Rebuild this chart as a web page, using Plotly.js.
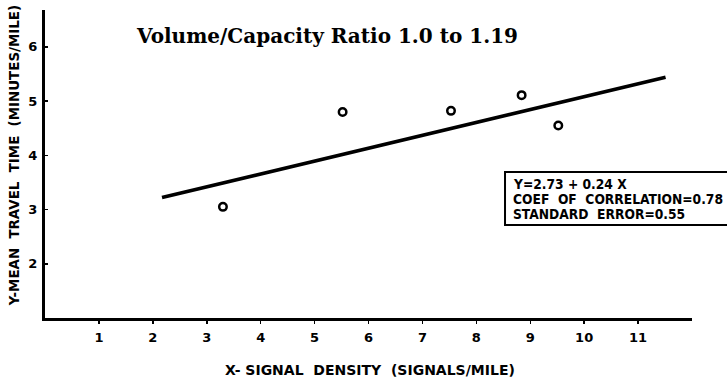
<!DOCTYPE html>
<html>
<head>
<meta charset="utf-8">
<script src="https://cdn.plot.ly/plotly-3.0.1.min.js"></script>
<style>html,body{margin:0;padding:0;background:#fff;}#chart{width:727px;height:378px;}</style>
</head>
<body>
<div id="chart"></div>
<script>
// Observed points
const signalDensity = [3.3, 5.52, 7.53, 8.84, 9.52];
const meanTravelTime = [3.05, 4.80, 4.82, 5.11, 4.55];
// Regression line end points as drawn
const fitX = [2.17, 11.51];
const fitY = [3.22, 5.44];
// Ticks
const xTicks = [1, 2, 3, 4, 5, 6, 7, 8, 9, 10, 11];
const xTickText = ['1', '2', '3', '4', '5', '6', '7', '8', '9', '10', '11'];
const yTicks = [2, 3, 4, 5, 6];
const yTickText = ['2', '3', '4', '5', '6'];
// Texts
const chartTitle = 'Volume/Capacity Ratio 1.0 to 1.19';
const xTitle = 'X- SIGNAL&nbsp;&nbsp;DENSITY&nbsp;&nbsp;(SIGNALS/MILE)';
const yTitle = 'Y-MEAN&nbsp;&nbsp;TRAVEL&nbsp;&nbsp;TIME&nbsp;&nbsp;(MINUTES/MILE)';
const statLines = ['Y=2.73 + 0.24 X', 'COEF&nbsp;&nbsp;OF&nbsp;&nbsp;CORRELATION=0.78', 'STANDARD&nbsp;&nbsp;ERROR=0.55'];
const statY = [0.435, 0.3864, 0.3377];

const boldFont = 'DejaVu Sans, sans-serif';
const condFont = 'DejaVu Sans Condensed, DejaVu Sans, sans-serif';

const traces = [
  {
    x: fitX, y: fitY, mode: 'lines', type: 'scatter',
    line: {color: '#000', width: 3.6}, hoverinfo: 'skip', showlegend: false
  },
  {
    x: signalDensity, y: meanTravelTime, mode: 'markers', type: 'scatter',
    marker: {symbol: 'circle-open', size: 7.5, color: '#000', line: {color: '#000', width: 2.5}},
    showlegend: false
  }
];

const annotations = [
  {text: chartTitle, xref: 'paper', yref: 'paper', x: 0.137, y: 0.916,
   xanchor: 'left', yanchor: 'middle', showarrow: false,
   font: {family: 'DejaVu Serif, serif', size: 20, color: '#000', weight: 'bold'}},
  {text: xTitle, xref: 'paper', yref: 'paper', x: 0.503, y: -0.169,
   xanchor: 'center', yanchor: 'middle', showarrow: false,
   font: {family: boldFont, size: 14, color: '#000', weight: 'bold'}},
  {text: yTitle, xref: 'paper', yref: 'paper', x: -0.046, y: 0.526,
   xanchor: 'center', yanchor: 'middle', showarrow: false, textangle: -90,
   font: {family: boldFont, size: 13.4, color: '#000', weight: 'bold'}}
];
statLines.forEach((t, i) => annotations.push({
  text: t, xref: 'paper', yref: 'paper', x: 0.721, y: statY[i],
  xanchor: 'left', yanchor: 'middle', align: 'left', showarrow: false,
  font: {family: condFont, size: 13.7, color: '#000', weight: 'bold'}
}));

const layout = {
  width: 727, height: 378,
  margin: {l: 45, r: 35, t: 10, b: 60},
  paper_bgcolor: '#fff', plot_bgcolor: '#fff',
  showlegend: false,
  xaxis: {
    range: [0, 12], showgrid: false, zeroline: false,
    showline: true, linecolor: '#000', linewidth: 3,
    tickmode: 'array', tickvals: xTicks, ticktext: xTickText,
    ticks: 'outside', ticklen: 3, tickwidth: 1.5, tickcolor: '#000',
    ticklabelstandoff: 2,
    tickfont: {family: boldFont, size: 13, color: '#000', weight: 'bold'}
  },
  yaxis: {
    range: [1, 6.68], showgrid: false, zeroline: false,
    showline: true, linecolor: '#000', linewidth: 3,
    tickmode: 'array', tickvals: yTicks, ticktext: yTickText,
    ticks: 'inside', ticklen: 3, tickwidth: 1.5, tickcolor: '#000',
    ticklabelstandoff: 2,
    tickfont: {family: boldFont, size: 13, color: '#000', weight: 'bold'}
  },
  shapes: [
    {type: 'rect', xref: 'paper', yref: 'paper', x0: 0.711, x1: 1.2, y0: 0.302, y1: 0.474,
     line: {color: '#000', width: 2}, fillcolor: 'rgba(0,0,0,0)'}
  ],
  annotations: annotations
};

Plotly.newPlot('chart', traces, layout, {displayModeBar: false, staticPlot: true});
</script>
</body>
</html>
